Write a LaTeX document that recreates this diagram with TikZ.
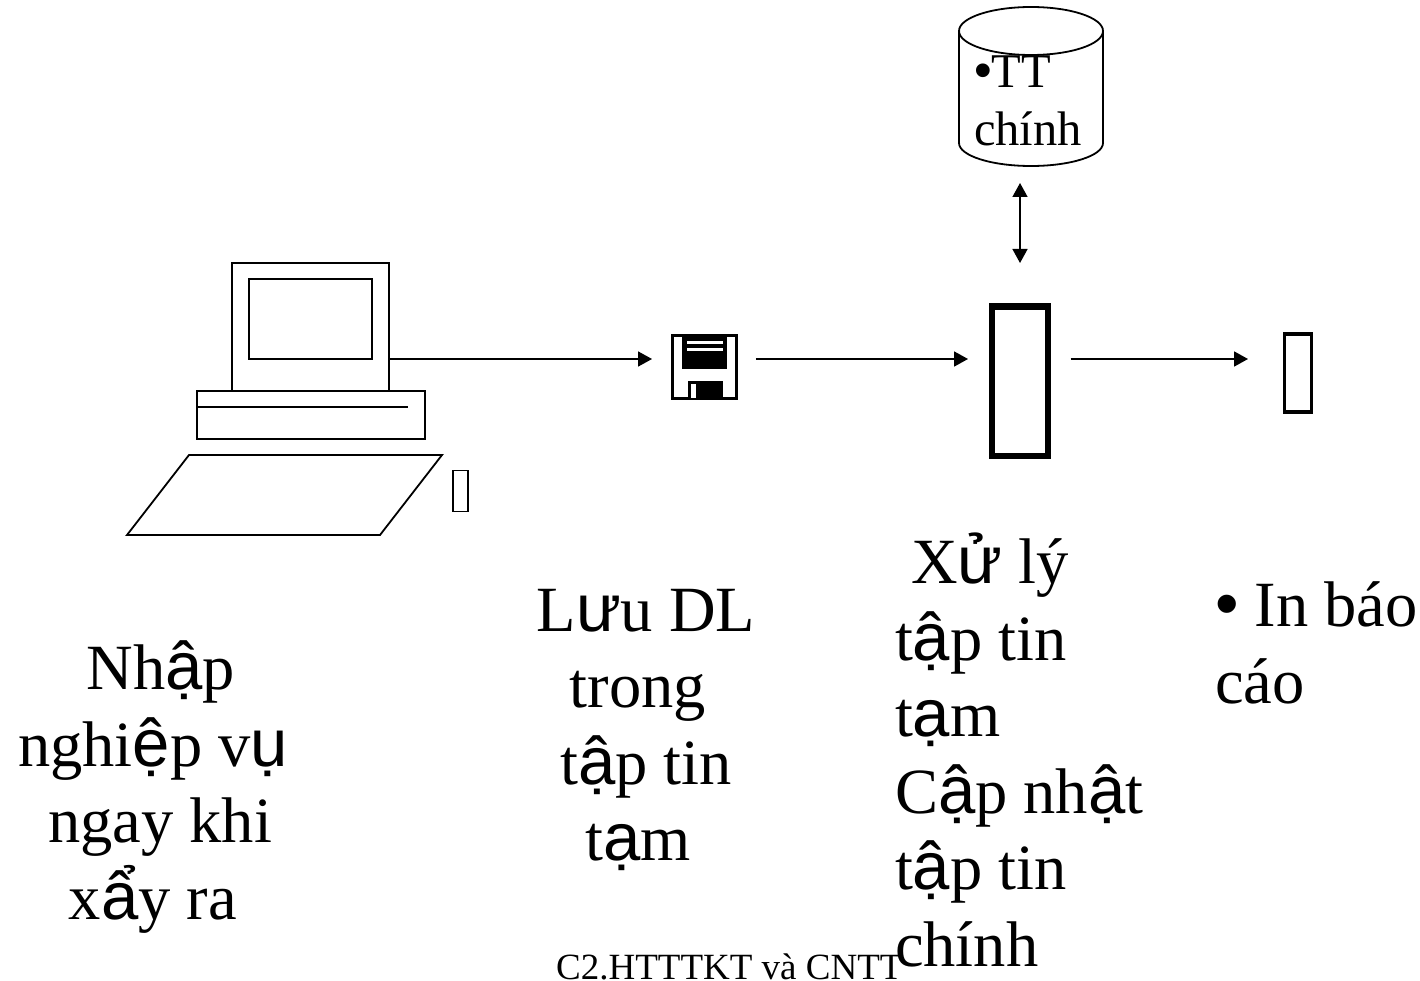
\documentclass[tikz,border=0pt]{standalone}
\usepackage{fontspec}
\setmainfont{Liberation Serif}
\newfontfamily\fbfont[Scale=1.04]{Liberation Sans}
\newcommand{\fb}[1]{{\fbfont #1}}
\usetikzlibrary{arrows.meta}

\begin{document}
\begin{tikzpicture}[
    x=1pt, y=-1pt,
    part/.style={draw, line width=1.8pt, minimum width=0pt, minimum height=0pt, inner sep=0pt, outer sep=0pt},
    glyphbox/.style={part, fill=white},
    msg/.style={-{Triangle[length=14pt,width=15pt]}, line width=1.8pt},
    rmsg/.style={{Triangle[length=14pt,width=15pt]}-{Triangle[length=14pt,width=15pt]}, line width=1.5pt},
    lbl/.style={font=\fontsize{64.5}{76.5}\selectfont, inner sep=0pt, outer sep=0pt},
    dblbl/.style={font=\fontsize{48.5}{58}\selectfont, inner sep=0pt, outer sep=0pt, align=left}
]
\useasboundingbox (0,0) rectangle (1420,981);

% Computer
\node[part, minimum width=157pt, minimum height=128pt] (monitor) at (310.5,327) {};
\node[part, minimum width=123pt, minimum height=80pt] (screen) at (310.5,319) {};
\node[glyphbox, minimum width=228pt, minimum height=48pt] (base) at (311,415) {};
\coordinate (slot) at (408,407);
\draw[line width=1.8pt] (base.west |- slot) -- (slot);
\draw[line width=1.8pt, line join=miter] (189,455) -- (442,455) -- (380,535) -- (127,535) -- cycle;
\node[part, minimum width=15pt, minimum height=41pt] (kbdbox) at (460.5,491) {};

% Floppy
\node[draw, line width=3.5pt, minimum width=64pt, minimum height=63pt, inner sep=0pt, outer sep=1.75pt] (disk) at (704.5,367) {};
\fill (682,334) rectangle (727,369);
\draw[white, line width=3pt] (687,342) -- (723,342) (687,349) -- (723,349);
\fill (688,381) rectangle (723,400);
\fill[white] (691,384) rectangle (696,398);

% Main store
\draw[line width=1.8pt, fill=white] (959,31) -- (959,143) arc[start angle=180, end angle=360, x radius=72, y radius=-23]
    -- (1103,31);
\draw[line width=1.8pt] (1031,31) ellipse[x radius=72, y radius=24];
\node[dblbl, anchor=north west] (store) at (974,56) {\fb{•}TT\\chính};

% Boxes
\node[part, line width=6pt, minimum width=56pt, minimum height=149pt, outer sep=3pt] (proc) at (1019.5,381) {};
\node[part, line width=3.5pt, minimum width=27pt, minimum height=78pt, outer sep=1.75pt] (print) at (1298,373) {};

% Connectors
\coordinate (dbport) at (1020,183);
\coordinate (procport) at (1020,263);
\draw[rmsg] (dbport) -- (procport);
\coordinate (mon2disk) at (monitor.east |- 0,359);
\coordinate (diskin) at (652,359);
\draw[msg] (mon2disk) -- (diskin);
\draw[msg, shorten <=17.5pt] (disk.east |- 0,359) -- (968,359);
\draw[msg, shorten <=20pt] (proc.east |- 0,359) -- (1248,359);

% Labels
\node[lbl, align=center, anchor=north] (entry) at (153,641)
    {\hspace*{16pt}Nh\fb{ậ}p\\nghi\fb{ệ}p v\fb{ụ}\\\hspace*{14pt}ngay khi\\x\fb{ẩ}y ra};
\node[lbl, align=center, anchor=north] (save) at (646,589)
    {L\fb{ư}u DL\\trong\hspace*{16pt}\null\\t\fb{ậ}p tin\\t\fb{ạ}m\hspace*{16pt}};
\node[lbl, align=left, anchor=north west] (update) at (895,533)
    {\hspace*{16pt}X\fb{ử} lý\\t\fb{ậ}p tin\\t\fb{ạ}m\\C\fb{ậ}p nh\fb{ậ}t\\t\fb{ậ}p tin\\chính};
\node[lbl, align=left, anchor=north west] (report) at (1215,582)
    {\fb{•} In báo\\cáo};
\node[font=\fontsize{37}{42}\selectfont, inner sep=0pt, anchor=base west] (footer) at (556,979) {C2.HTTTKT và CNTT};
\end{tikzpicture}
\end{document}
